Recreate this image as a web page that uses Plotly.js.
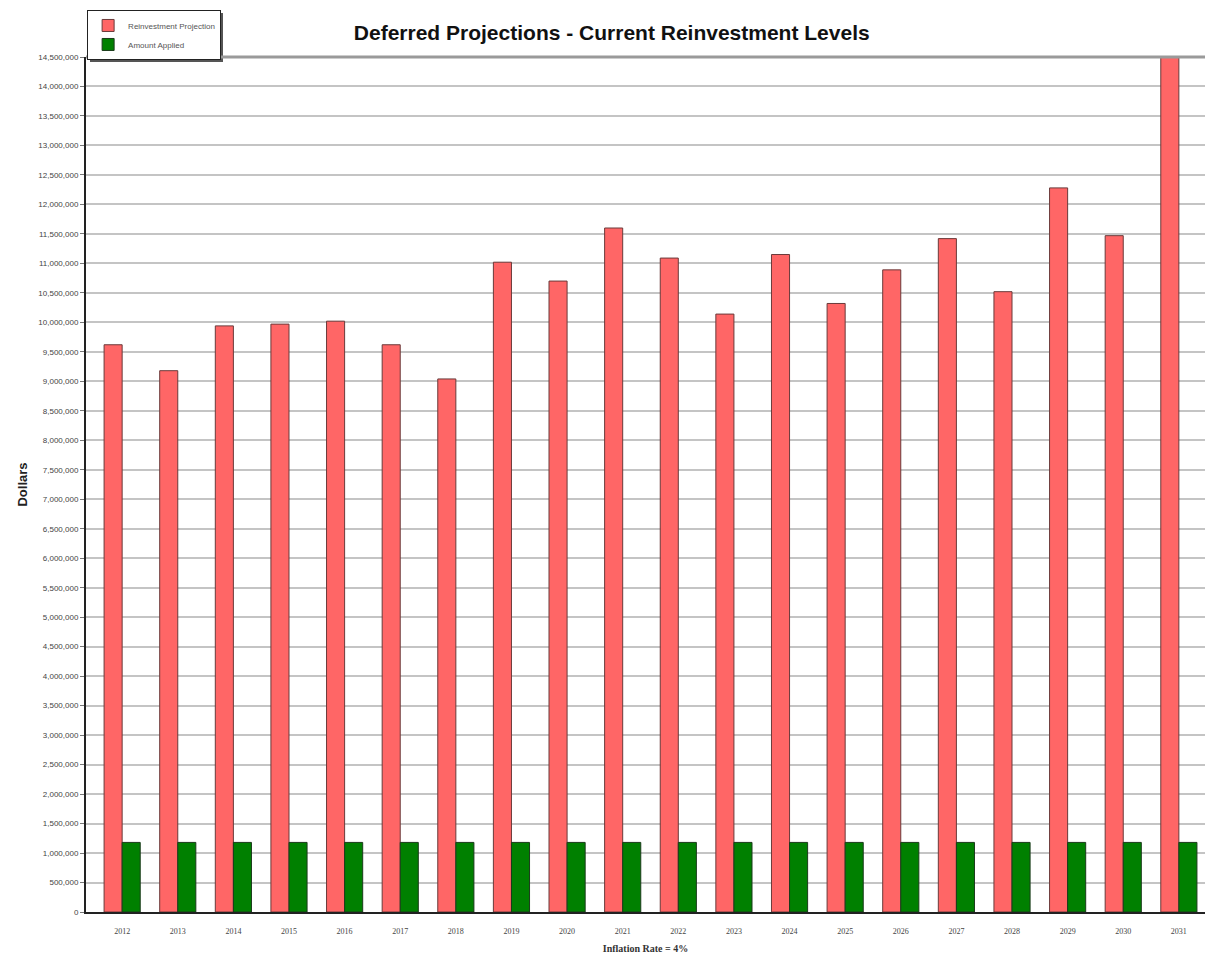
<!DOCTYPE html>
<html>
<head>
<meta charset="utf-8">
<script src="https://cdn.plot.ly/plotly-3.0.1.min.js"></script>
<style>
html,body{margin:0;padding:0;background:#fff;}
#chart{width:1209px;height:960px;}
</style>
</head>
<body>
<div id="chart"></div>
<script>
const years = ["2012","2013","2014","2015","2016","2017","2018","2019","2020","2021",
               "2022","2023","2024","2025","2026","2027","2028","2029","2030","2031"];
const reinvestmentProjection = [9620000, 9180000, 9940000, 9970000, 10020000, 9620000, 9040000, 11020000, 10700000, 11600000,
                                11090000, 10140000, 11150000, 10320000, 10890000, 11420000, 10520000, 12280000, 11470000, 14500000];
const amountApplied = [1180000, 1180000, 1180000, 1180000, 1180000, 1180000, 1180000, 1180000, 1180000, 1180000,
                       1180000, 1180000, 1180000, 1180000, 1180000, 1180000, 1180000, 1180000, 1180000, 1180000];
const seriesNames = ["Reinvestment Projection", "Amount Applied"];
const yTickVals = [];
for (let v = 0; v <= 14500000; v += 500000) yTickVals.push(v);

const traces = [
  {type:"bar", name:seriesNames[0], x:years, y:reinvestmentProjection,
   marker:{color:"#ff6666", line:{color:"#6a3a3a", width:1}}},
  {type:"bar", name:seriesNames[1], x:years, y:amountApplied,
   marker:{color:"#008000", line:{color:"#1a3a1a", width:1}}}
];

const px = v => (v - 86) / 1119;   // helper for legend shadow placement (paper coords)
const py = v => (912 - v) / 855;

const layout = {
  width:1209, height:960,
  paper_bgcolor:"#ffffff", plot_bgcolor:"#ffffff",
  margin:{l:86, r:4, t:57, b:48},
  barmode:"group", bargap:0.35, bargroupgap:0,
  title:{text:"<b>Deferred Projections - Current Reinvestment Levels</b>",
         font:{family:"Liberation Sans, Arial, sans-serif", size:21, color:"#111"},
         x:0.506, xanchor:"center", xref:"container", y:0.966, yanchor:"middle"},
  xaxis:{type:"category", range:[-0.65, 19.47],
         showgrid:false, zeroline:false,
         showline:true, linecolor:"#222", linewidth:2,
         ticks:"", ticklabelstandoff:10,
         tickfont:{family:"Liberation Serif, serif", size:8, color:"#444"},
         title:{text:"<b>Inflation Rate = 4%</b>", standoff:10,
                font:{family:"Liberation Serif, serif", size:10, color:"#333"}}},
  yaxis:{range:[0, 14500000], tickvals:yTickVals, tickformat:",d",
         showgrid:true, gridcolor:"#c4c4c4", gridwidth:2,
         zeroline:false, showline:true, linecolor:"#222", linewidth:2,
         ticks:"outside", ticklen:4, tickcolor:"#777",
         tickfont:{family:"Liberation Sans, Arial, sans-serif", size:8, color:"#444"},
         title:{text:"<b>Dollars</b>", standoff:8,
                font:{family:"Liberation Sans, Arial, sans-serif", size:13, color:"#222"}}},
  legend:{x:0.001, xanchor:"left", y:1.055, yanchor:"top",
          orientation:"v", bgcolor:"#ffffff", bordercolor:"#222", borderwidth:1,
          font:{family:"Liberation Sans, Arial, sans-serif", size:8, color:"#555"},
          itemwidth:30, tracegroupgap:0},
  shapes:[
    {type:"rect", xref:"paper", yref:"paper", layer:"above",
     x0:px(90), x1:px(223), y0:py(62), y1:py(13),
     fillcolor:"#555555", line:{width:0}},
    {type:"line", xref:"paper", yref:"paper", x0:0, x1:1, y0:1, y1:1,
     line:{color:"#9a9a9a", width:3}}
  ],
  showlegend:true
};

Plotly.newPlot("chart", traces, layout, {displayModeBar:false, staticPlot:true});
</script>
</body>
</html>
